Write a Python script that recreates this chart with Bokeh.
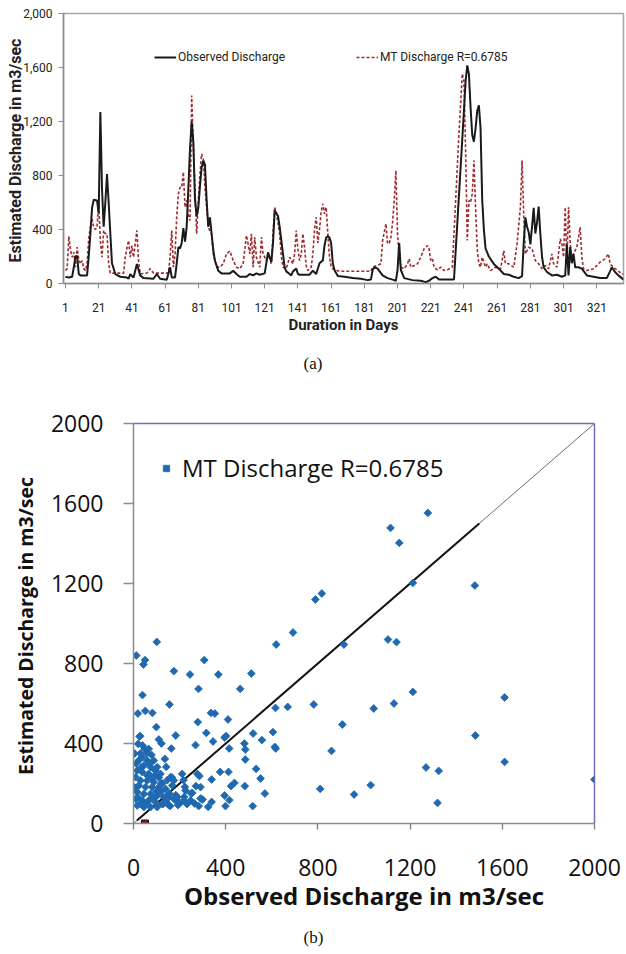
import math
from bokeh.plotting import figure
from bokeh.models import (FixedTicker, NumeralTickFormatter, Legend, LegendItem,
                          LinearAxis, Range1d, Title)
from bokeh.layouts import column
from bokeh.embed import file_html
from bokeh.resources import INLINE
from bokeh.core.properties import value

# ---------------- (a) time series ----------------
obs_day = [1, 3, 5, 6, 7, 8, 9, 10, 14, 15, 16, 17, 18, 20, 21, 22, 23, 24, 25, 26, 27, 28, 29, 31, 34, 38, 39, 40,
           41, 42, 44, 46, 48, 54, 56, 58, 62, 64, 65, 67, 68, 69, 70, 71, 72, 73, 74, 75, 76, 77, 78, 79, 80, 81,
           82, 83, 84, 85, 86, 87, 88, 89, 90, 91, 93, 95, 100, 102, 104, 106, 110, 112, 114, 116, 118, 121, 123,
           125, 126, 127, 128, 129, 130, 132, 133, 134, 136, 137, 138, 140, 141, 142, 148, 150, 152, 154, 155, 156,
           157, 158, 159, 160, 161, 162, 163, 165, 169, 174, 179, 183, 185, 186, 187, 189, 192, 195, 199, 200, 201,
           202, 203, 205, 210, 215, 218, 220, 222, 224, 226, 229, 235, 241, 242, 243, 244, 245, 246, 247, 248, 249,
           250, 251, 252, 253, 254, 256, 259, 262, 265, 268, 271, 274, 276, 277, 278, 279, 280, 281, 282, 283, 284,
           285, 286, 287, 288, 289, 291, 294, 297, 300, 302, 303, 304, 305, 306, 307, 308, 310, 312, 315, 319, 323,
           327, 329, 330, 332, 334, 336, 337]
obs_q = [50, 45, 50, 120, 200, 205, 70, 60, 60, 200, 370, 560, 620, 615, 520, 1270, 700, 420, 600, 810, 600, 370,
         150, 70, 50, 45, 35, 70, 55, 45, 145, 60, 40, 35, 70, 35, 28, 120, 45, 45, 150, 270, 260, 300, 410, 310,
         420, 700, 1000, 1200, 1050, 620, 500, 560, 720, 860, 910, 880, 620, 420, 490, 370, 250, 170, 95, 75, 75,
         95, 70, 50, 50, 70, 60, 75, 65, 75, 230, 160, 300, 540, 520, 500, 420, 220, 120, 90, 70, 60, 90, 110, 70,
         65, 65, 95, 70, 150, 160, 170, 280, 340, 350, 340, 300, 150, 100, 55, 50, 40, 35, 25, 30, 100, 120, 110,
         60, 40, 25, 20, 100, 300, 100, 40, 25, 20, 10, 20, 40, 50, 30, 30, 30, 1280, 1500, 1615, 1550, 1300, 1100,
         1050, 1150, 1280, 1320, 1150, 620, 400, 260, 200, 145, 110, 70, 65, 50, 40, 55, 300, 490, 420, 380, 290,
         420, 560, 370, 450, 570, 370, 200, 120, 85, 60, 65, 50, 60, 290, 60, 270, 150, 220, 120, 120, 110, 60, 50,
         40, 40, 90, 120, 85, 60, 40, 30]

mt_day = [1, 2, 3, 4, 5, 6, 7, 8, 9, 10, 11, 12, 13, 14, 15, 16, 17, 18, 19, 20, 21, 22, 23, 24, 25, 26, 27, 28, 36,
          37, 38, 39, 40, 41, 42, 43, 44, 45, 46, 50, 52, 54, 63, 64, 65, 66, 67, 68, 69, 70, 71, 72, 73, 74, 75, 76,
          77, 78, 79, 80, 81, 82, 83, 84, 85, 86, 87, 88, 89, 90, 92, 94, 96, 98, 100, 102, 104, 106, 108, 110, 111,
          112, 113, 114, 115, 116, 118, 119, 120, 122, 123, 125, 126, 127, 128, 129, 130, 131, 132, 134, 136, 138,
          139, 140, 141, 142, 143, 144, 145, 146, 147, 149, 150, 151, 152, 153, 154, 155, 156, 157, 158, 159, 160,
          161, 162, 166, 172, 185, 186, 191, 192, 193, 194, 195, 196, 197, 198, 199, 200, 201, 202, 203, 205, 207,
          208, 209, 211, 213, 215, 217, 219, 220, 221, 222, 223, 225, 227, 229, 231, 234, 236, 238, 240, 241, 242,
          243, 244, 245, 246, 247, 248, 249, 250, 251, 252, 254, 255, 257, 260, 263, 264, 265, 266, 268, 271, 273,
          275, 276, 277, 278, 280, 282, 284, 286, 288, 290, 292, 294, 295, 297, 299, 300, 301, 302, 303, 304, 305,
          306, 307, 309, 311, 312, 313, 315, 319, 323, 326, 328, 329, 331, 334, 336, 337]
mt_q = [96, 110, 350, 250, 195, 232, 121, 269, 180, 146, 170, 110, 96, 146, 331, 420, 479, 417, 400, 417, 590, 318,
        195, 393, 368, 368, 146, 77, 77, 195, 260, 318, 195, 281, 195, 294, 393, 170, 72, 77, 110, 77, 77, 200, 393,
        121, 220, 500, 664, 713, 713, 825, 565, 615, 500, 467, 1393, 1035, 700, 368, 615, 812, 960, 923, 713, 565,
        417, 390, 368, 220, 121, 121, 146, 220, 240, 170, 121, 110, 146, 356, 294, 220, 368, 121, 343, 195, 121,
        343, 220, 170, 220, 146, 368, 565, 516, 450, 368, 200, 121, 110, 195, 146, 220, 393, 250, 170, 220, 368,
        269, 130, 96, 121, 220, 400, 491, 300, 400, 530, 590, 516, 565, 368, 200, 121, 109, 91, 91, 91, 121, 146,
        318, 380, 442, 294, 300, 343, 450, 615, 837, 368, 195, 121, 109, 146, 183, 121, 133, 146, 195, 257, 281,
        257, 170, 183, 121, 101, 121, 96, 101, 121, 615, 1109, 1553, 1504, 985, 318, 615, 600, 664, 911, 565, 250,
        146, 121, 195, 121, 146, 96, 121, 109, 170, 244, 146, 146, 121, 294, 565, 911, 516, 220, 269, 257, 170, 146,
        109, 133, 109, 220, 146, 121, 331, 294, 195, 565, 146, 565, 300, 170, 220, 269, 417, 195, 109, 96, 109, 158,
        183, 220, 146, 121, 91, 72, 70]

day_ticks = [1, 21, 41, 61, 81, 101, 121, 141, 161, 181, 201, 221, 241, 261, 281, 301, 321]
q_ticks_a = [0, 400, 800, 1200, 1600, 2000]

# ---------------- (b) scatter ----------------
sc_obs = [2000, 1277, 1115, 1153, 1212, 1481, 789, 817, 692, 1104, 1141, 913, 619, 101, 12, 50, 43, 307, 175, 245,
          368, 511, 282, 463, 1212, 1610, 39, 156, 782, 1130, 1042, 669, 616, 19, 51, 82, 336, 353, 279, 410, 99,
          906, 519, 605, 316, 183, 1483, 395, 402, 345, 557, 29, 110, 121, 269, 481, 613, 617, 415, 164, 859, 485,
          136, 485, 1610, 1269, 1324, 532, 142, 412, 376, 339, 286, 551, 438, 423, 483, 1029, 810, 957, 570, 395,
          416, 399, 517, 1319, 283, 324, 339, 291, 271, 223, 217, 189, 193, 159, 128, 232, 220, 255, 183, 156, 147,
          167, 121, 93,
          16, 38, 66, 95, 117, 9, 30, 59, 88, 23, 52, 81, 110, 16, 45, 74, 103, 132, 9, 38, 66, 95, 124, 16, 45, 74,
          103, 30, 26, 20, 39, 49, 66, 59, 78, 38, 23, 59, 88, 45, 74, 103, 139, 161, 168, 190, 211, 219, 248, 226,
          277, 291, 12, 30, 70, 95, 110, 125, 140, 155, 175, 200, 5, 20, 55, 85, 120, 60, 35, 5, 80, 100, 150, 178,
          250, 265, 300]
sc_est = [220, 1553, 1478, 1403, 1203, 1190, 1120, 1150, 955, 920, 907, 895, 895, 908, 840, 817, 795, 817, 762, 745,
          745, 750, 673, 673, 658, 630, 642, 595, 595, 600, 575, 583, 578, 550, 563, 553, 553, 550, 507, 520, 482,
          495, 450, 457, 453, 440, 440, 430, 437, 410, 417, 437, 420, 400, 392, 400, 383, 375, 375, 375, 363, 370,
          323, 320, 308, 280, 263, 273, 283, 258, 258, 220, 237, 225, 203, 187, 187, 192, 173, 145, 150, 140, 117,
          87, 87, 103, 87, 83, 108, 125, 187, 183, 217, 117, 92, 87, 97, 97, 133, 153, 142, 133, 217, 230, 200, 267,
          265, 257, 248, 240, 248, 232, 215, 215, 207, 190, 182, 182, 182, 157, 148, 148, 140, 132, 123, 115, 115,
          107, 98, 90, 82, 82, 82, 98, 435, 398, 390, 373, 373, 352, 343, 332, 315, 315, 315, 290, 282, 282, 173,
          232, 190, 132, 248, 115, 115, 165, 248, 182, 300, 350, 300, 265, 230, 200, 110, 150, 215, 100, 180, 130,
          100, 128, 160, 240, 280, 350, 230, 160, 95, 120, 150, 100, 120]
ref_obs = [50]
ref_est = [0]
diag = [0, 2000]
fit_q = [15, 1500]
q_ticks_b = [0, 400, 800, 1200, 1600, 2000]

SANS_A = "Roboto"

# ================= figure (a) =================
p1 = figure(width=626, height=392, output_backend="svg", toolbar_location=None, title=None,
            x_range=Range1d(-0.2, 337.1), y_range=Range1d(0, 2000), frame_align=False,
            min_border_left=63, min_border_right=3, min_border_top=13, min_border_bottom=109)
p1.xgrid.visible = False
p1.ygrid.visible = False
p1.outline_line_color = "#a6a6a6"
p1.outline_line_width = 1.5
p1.background_fill_color = "white"
p1.border_fill_color = "white"

for ax in (p1.xaxis[0], p1.yaxis[0]):
    ax.axis_line_color = "#8c8c8c"
    ax.axis_line_width = 1.5
    ax.major_tick_line_color = "#8c8c8c"
    ax.major_tick_in = 0
    ax.major_tick_out = 5
    ax.minor_tick_out = 0
    ax.minor_tick_in = 0
    ax.major_label_text_font = SANS_A
    ax.major_label_text_font_size = "12px"
    ax.major_label_text_color = "#222222"
    ax.axis_label_text_font = SANS_A
    ax.axis_label_text_font_style = "bold"
    ax.axis_label_text_color = "#222222"
p1.xaxis[0].ticker = FixedTicker(ticks=day_ticks)
p1.xaxis[0].major_label_standoff = 14
p1.xaxis[0].axis_label = "Duration in Days"
p1.xaxis[0].axis_label_text_font_size = "15px"
p1.xaxis[0].axis_label_standoff = 1
p1.yaxis[0].ticker = FixedTicker(ticks=q_ticks_a)
p1.yaxis[0].formatter = NumeralTickFormatter(format="0,0")
p1.yaxis[0].major_label_standoff = 6
p1.yaxis[0].axis_label = "Estimated  Discharge in m3/sec"
p1.yaxis[0].axis_label_text_font_size = "16px"
p1.yaxis[0].axis_label_standoff = -5

r_mt = p1.line(mt_day, mt_q, line_color="#9e2b2e", line_width=1.6, line_dash="3 2")
r_obs = p1.line(obs_day, obs_q, line_color="#1a1a1a", line_width=2)

leg_kw = dict(border_line_color=None, background_fill_alpha=0, padding=0, margin=0, spacing=0,
              label_standoff=2, glyph_width=22, glyph_height=14, label_height=14,
              label_text_font=SANS_A, label_text_font_size="12px", label_text_color="#222222")
lg1 = Legend(items=[LegendItem(label="Observed Discharge", renderers=[r_obs])], location=(91, 219), **leg_kw)
lg2 = Legend(items=[LegendItem(label="MT Discharge R=0.6785", renderers=[r_mt])], location=(293, 219), **leg_kw)
p1.add_layout(lg1)
p1.add_layout(lg2)

cap_a = Title(text="(a)", align="left", offset=240, standoff=30, text_font="Liberation Serif",
              text_font_size="17px", text_font_style="normal", text_color="#111111")
p1.add_layout(cap_a, "below")

# ================= figure (b) =================
p2 = figure(width=626, height=531, output_backend="svg", toolbar_location=None, title=None,
            x_range=Range1d(0, 2000), y_range=Range1d(0, 2000), frame_align=False,
            min_border_left=133, min_border_right=32, min_border_top=31, min_border_bottom=100)
p2.xgrid.visible = False
p2.ygrid.visible = False
p2.outline_line_color = None
p2.background_fill_color = "white"
p2.border_fill_color = "white"

for ax in (p2.xaxis[0], p2.yaxis[0]):
    ax.ticker = FixedTicker(ticks=q_ticks_b)
    ax.axis_line_color = "#8c8c8c"
    ax.axis_line_width = 1.5
    ax.major_tick_line_color = "#8c8c8c"
    ax.major_tick_line_width = 1.5
    ax.major_tick_in = 0
    ax.minor_tick_out = 0
    ax.minor_tick_in = 0
    ax.major_label_text_font = "Open Sans"
    ax.major_label_text_font_size = "23px"
    ax.major_label_text_color = "#111111"
    ax.axis_label_text_font = "Open Sans"
    ax.axis_label_text_font_style = "bold"
    ax.axis_label_text_color = "#111111"
p2.xaxis[0].major_tick_out = 6
p2.xaxis[0].major_label_standoff = 29
p2.xaxis[0].axis_label = "Observed Discharge in m3/sec"
p2.xaxis[0].axis_label_text_font_size = "24px"
p2.xaxis[0].axis_label_standoff = 0
p2.yaxis[0].major_tick_out = 10
p2.yaxis[0].major_label_standoff = 20
p2.yaxis[0].axis_label = "Estimated  Discharge in m3/sec"
p2.yaxis[0].axis_label_text_font_size = "19.5px"
p2.yaxis[0].axis_label_standoff = 9

for side in ("above", "right"):
    a = LinearAxis(ticker=FixedTicker(ticks=[]), axis_line_color="#7b68b6", axis_line_width=1.5,
                   major_tick_out=0, major_tick_in=0, minor_tick_out=0, minor_tick_in=0,
                   major_label_text_font_size="0px", major_label_standoff=0)
    p2.add_layout(a, side)

p2.line(diag, diag, line_color="#6e6e6e", line_width=1)
p2.line(fit_q, fit_q, line_color="#111111", line_width=2)
r_sc = p2.scatter(sc_obs, sc_est, marker="square", angle=math.pi / 4, size=5.5,
                  fill_color="#1f69b1", line_color="#1f69b1", line_width=0.8)
p2.scatter(ref_obs, ref_est, marker="square", size=7, fill_color="#8b1414", line_color="#111111")

lg3 = Legend(items=[LegendItem(label="MT Discharge R=0.6785", renderers=[r_sc])], location=(25, 339),
             border_line_color=None, background_fill_alpha=0, padding=0, margin=0, spacing=0,
             label_standoff=8, glyph_width=16, glyph_height=28, label_height=28,
             label_text_font="Open Sans", label_text_font_size="24px", label_text_color="#111111")
p2.add_layout(lg3)

# ================= caption (b) strip =================
p3 = figure(width=626, height=29, output_backend="svg", toolbar_location=None, title=None,
            x_range=Range1d(0, 626), y_range=Range1d(0, 29), frame_align=False,
            x_axis_location=None, y_axis_location=None, min_border=0)
p3.grid.visible = False
p3.outline_line_color = None
p3.background_fill_color = "white"
p3.border_fill_color = "white"
p3.text(x=[313], y=[15], text=["(b)"], text_align="center", text_baseline="middle",
        text_font=value("Liberation Serif"), text_font_size="17px", text_color="#111111")

layout = column(p1, p2, p3, spacing=0)
open("out.html", "w").write(file_html(layout, INLINE))
